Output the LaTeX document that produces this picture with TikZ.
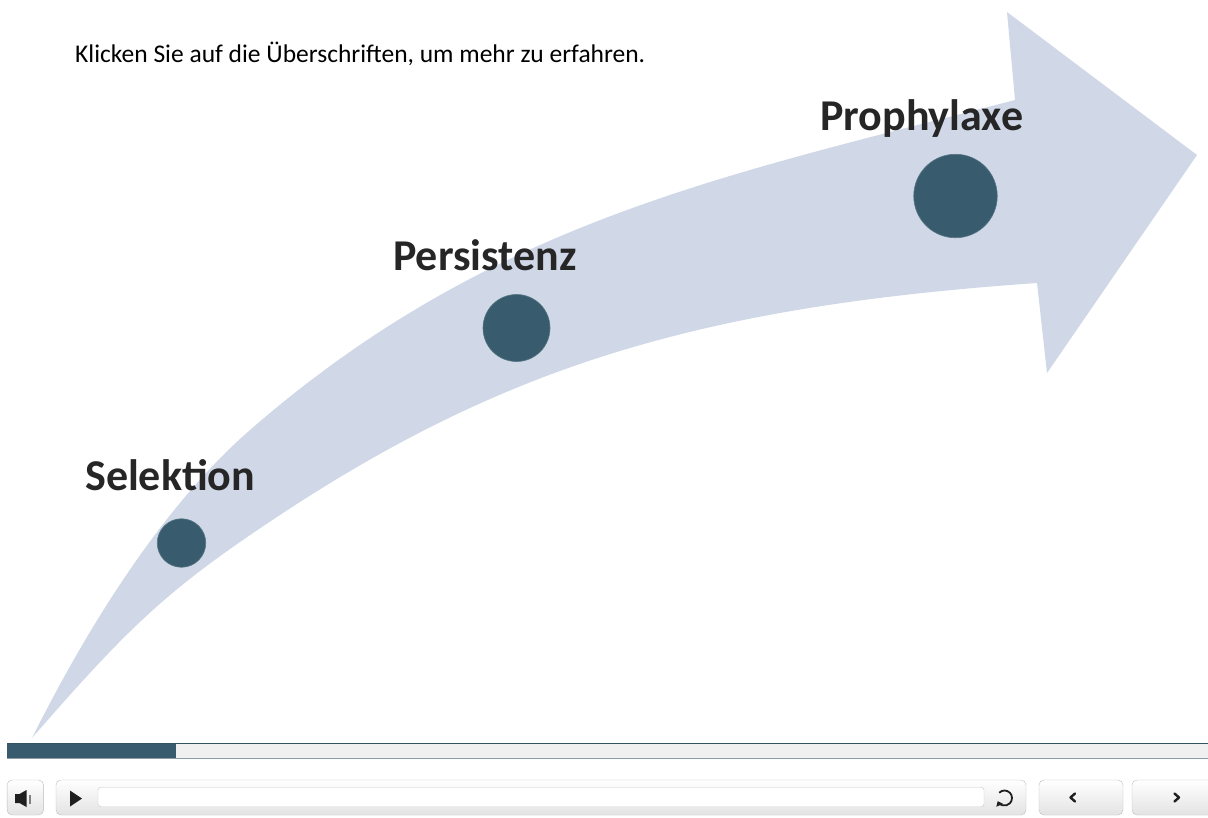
\documentclass[tikz,border=0pt]{standalone}
\usepackage{fontspec}
\setmainfont{Carlito}
\usetikzlibrary{arrows.meta,positioning}
\definecolor{bandblue}{HTML}{D0D8E8}
\definecolor{dotteal}{HTML}{385C6E}
\definecolor{ink}{HTML}{262626}
\definecolor{trackgray}{HTML}{F0F0F0}
\definecolor{trackline}{HTML}{8D9CA6}
\definecolor{rimgray}{HTML}{BDBDBD}
\definecolor{iconink}{HTML}{1F1F1F}

\begin{document}
\begin{tikzpicture}[
  x=1pt,y=-1pt,
  dot/.style={circle,fill=dotteal,draw=dotteal!85!white,line width=0.6pt,inner sep=0pt},
  heading/.style={anchor=base west,inner sep=0pt,text=ink,font=\fontsize{44}{50}\selectfont\bfseries},
  btn/.style={draw=rimgray,rounded corners=5pt,top color=white,bottom color=black!11,minimum height=35pt,inner sep=0pt},
  field/.style={draw=rimgray!80,fill=white,rounded corners=3pt,minimum height=19.5pt,inner sep=0pt},
  glyph/.style={draw=iconink,line width=2.4pt,line cap=round,line join=round}
]
\useasboundingbox (0,0) rectangle (1208,817);

% curved arrow band
\fill[bandblue] (32,738) .. controls (112,578) and (190,482) .. (250,430)
  .. controls (490,221) and (725,175.4) .. (1015,100)
  -- (1007,12) -- (1197,155) -- (1047,373) -- (1037,283)
  .. controls (707,306) and (510,363.2) .. (280,515)
  .. controls (170,587.6) and (132,623) .. (32,738) -- cycle;

\node[anchor=base west,inner sep=0pt,font=\fontsize{25.5}{30}\selectfont] (hint) at (75,62)
  {Klicken Sie auf die Überschriften, um mehr zu erfahren.};

% stages along the arrow
\node[dot,minimum size=48.5pt] (selDot) at (181.5,543) {};
\node[dot,minimum size=67pt] (perDot) at (516.5,328) {};
\node[dot,minimum size=83.5pt] (proDot) at (955.5,196) {};
\node[heading] (selLabel) at (85,490) {Selektion};
\node[heading] (perLabel) at (393,270) {Persistenz};
\node[heading] (proLabel) at (820,130) {Prophylaxe};

% progress track
\fill[trackgray] (7,743) rectangle (1208,759);
\fill[dotteal] (7,743) rectangle (176,759);
\draw[dotteal!90!black,line width=1.2pt] (7,743.6) -- (1208,743.6);
\draw[trackline,line width=1.2pt] (7,758.6) -- (1208,758.6);

% player controls
\node[btn,minimum width=36.5pt] (mute) at (25.3,797.5) {};
\node[btn,minimum width=970pt] (player) at (541,797.5) {};
\node[field,minimum width=886pt] (seek) at (541,797) {};
\node[btn,minimum width=84pt] (back) at (1081,797.5) {};
\node[btn,minimum width=84pt] (next) at (1174,797.5) {};

% icons
\fill[iconink] (15,794) rectangle (19.5,803) (19.5,794) -- (26.5,790) -- (26.5,807) -- (19.5,803) -- cycle;
\fill[gray] (28.5,794.5) rectangle (30.5,803.5);
\fill[iconink] (70,790.5) -- (82,798.5) -- (70,806.5) -- cycle;
\draw[iconink,line width=1.8pt,-{Triangle[length=4.5pt,width=7pt]}] (1004.5,798) ++(225:7.5) arc[start angle=225,end angle=515,radius=7.5];
\draw[glyph] (1075,793.5) -- (1070.5,797.5) -- (1075,801.5);
\draw[glyph] (1174.5,793.5) -- (1179,797.5) -- (1174.5,801.5);
\end{tikzpicture}
\end{document}
